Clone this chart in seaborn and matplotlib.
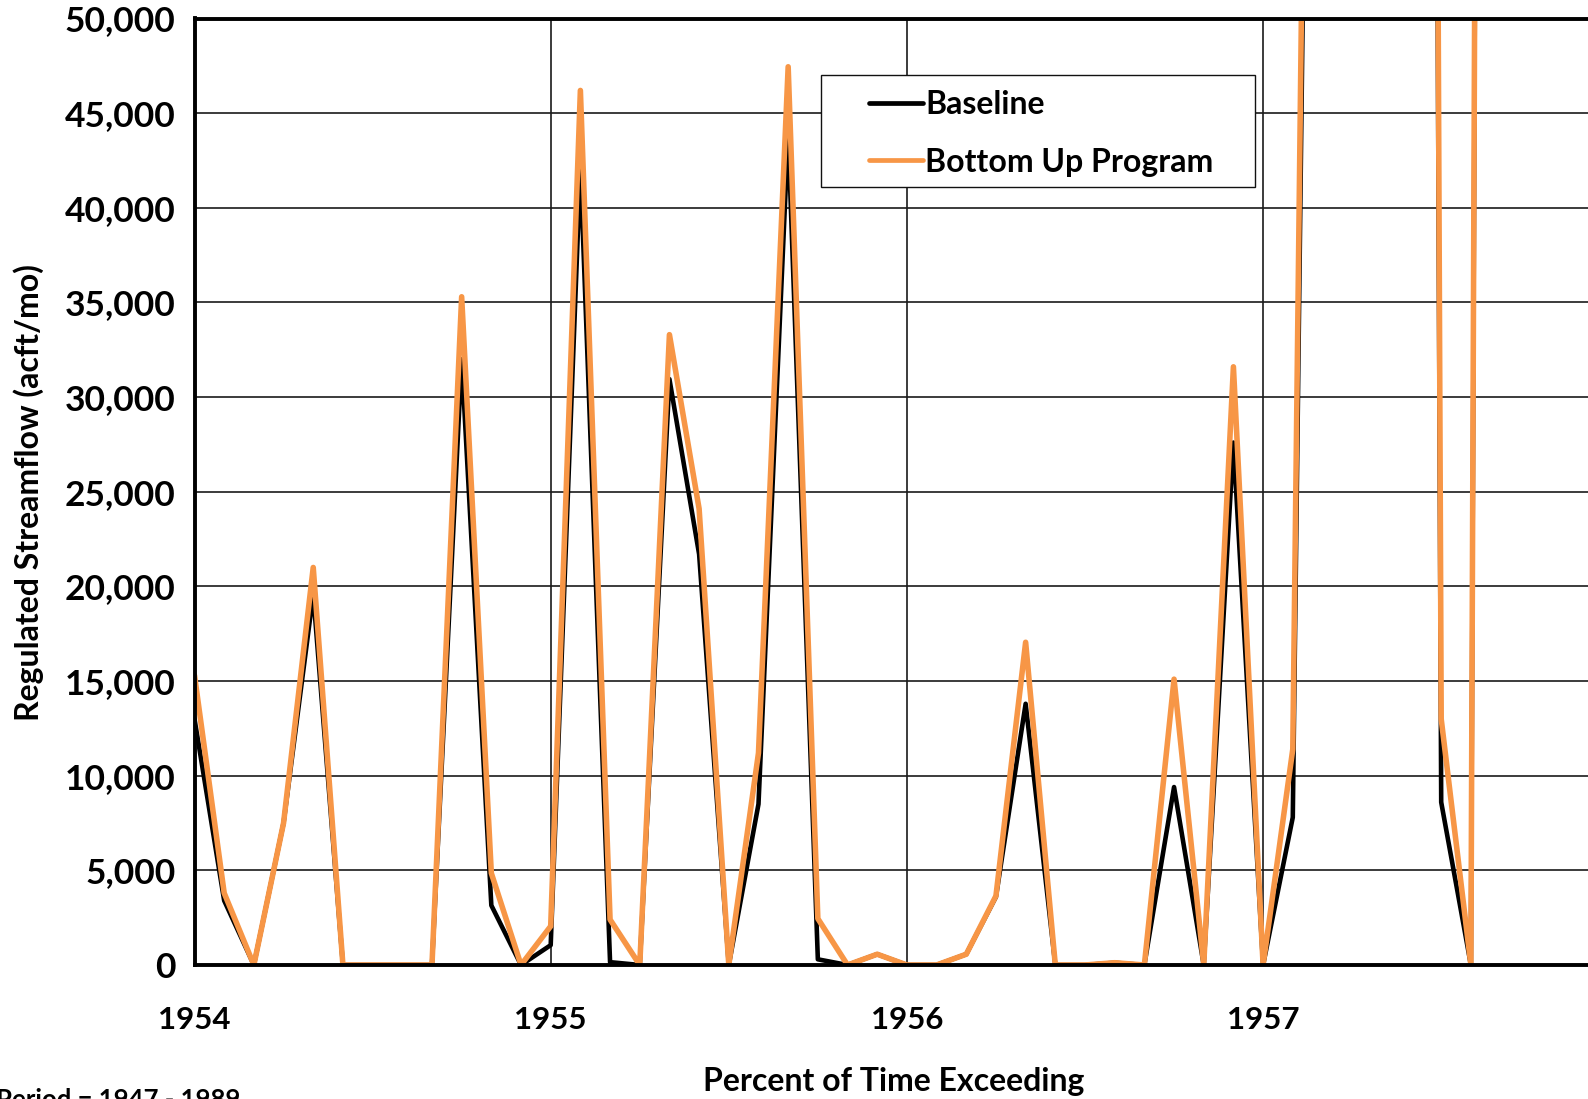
import numpy as np
import pandas as pd
import matplotlib
matplotlib.use("Agg")
import matplotlib.pyplot as plt
import seaborn as sns
from matplotlib.ticker import MultipleLocator, FuncFormatter
from matplotlib.patches import Rectangle

# ---- data (monthly, starting Jan 1954) ----
start_year = 1954
baseline = [13000, 3400, 0, 7500, 19600, 0, 0, 0, 0, 32000, 3150, 0,
            1050, 42200, 150, 0, 30950, 21700, 0, 8500, 44000, 300, 0, 570,
            0, 0, 570, 3600, 13800, 0, 0, 120, 0, 9400, 0, 27600,
            0, 7800, 135000, 150000, 240000, 360000, 8600, 0, 380000, 300000, 250000, 200000]
bottom_up = [15300, 3800, 0, 7500, 21000, 0, 0, 0, 0, 35300, 4850, 0,
             2050, 46200, 2400, 0, 33300, 24100, 0, 11200, 47450, 2450, 0, 570,
             0, 0, 570, 3650, 17050, 0, 0, 120, 0, 15100, 0, 31600,
             0, 11400, 145000, 160000, 250000, 380000, 13000, 0, 400000, 320000, 260000, 210000]
series_names = ["Baseline", "Bottom Up Program"]
series_colors = ["#000000", "#F79646"]
year_ticks = [1954, 1955, 1956, 1957]

months = pd.period_range(f"{start_year}-01", periods=len(baseline), freq="M")
xpos = months.year + (months.month - 1) / 12.0

df = pd.concat([
    pd.DataFrame({"x": xpos, "value": baseline, "series": series_names[0]}),
    pd.DataFrame({"x": xpos, "value": bottom_up, "series": series_names[1]}),
])

# ---- style ----
sns.set_theme(style="white")
plt.rcParams["font.family"] = ["Lato", "DejaVu Sans"]
plt.rcParams["font.weight"] = "bold"
plt.rcParams["text.color"] = "black"
plt.rcParams["axes.labelcolor"] = "black"

W, H = 1588, 1099
fig = plt.figure(figsize=(W / 100, H / 100), dpi=100)

left_px, top_px, bottom_px = 194.5, 18.5, 965.0
year_px = 356.2
ax = fig.add_axes([left_px / W, (H - bottom_px) / H,
                   5 * year_px / W, (bottom_px - top_px) / H])

sns.lineplot(data=df, x="x", y="value", hue="series", hue_order=series_names,
             palette=series_colors, ax=ax, sort=False, legend=True)
for line, lw in zip(ax.lines, [3.3, 4.0]):
    line.set_linewidth(lw)
    line.set_solid_joinstyle("round")
    line.set_solid_capstyle("round")

ax.set_xlim(1954, 1959)
ax.set_ylim(0, 50000)
ax.xaxis.set_minor_locator(MultipleLocator(1 / 12))
ax.set_xticks(year_ticks)
ax.set_xticklabels([str(y) for y in year_ticks])
ax.yaxis.set_major_locator(MultipleLocator(5000))
ax.yaxis.set_minor_locator(MultipleLocator(1000))
ax.yaxis.set_major_formatter(FuncFormatter(lambda v, p: f"{int(v):,}"))

ax.grid(True, which="major", color="#1a1a1a", linewidth=1.2)
ax.set_axisbelow(True)

for s in ["left", "bottom", "top"]:
    ax.spines[s].set_visible(True)
    ax.spines[s].set_color("black")
    ax.spines[s].set_linewidth(2.8)
ax.spines["right"].set_visible(False)

ax.tick_params(axis="both", which="major", direction="out", length=8.5, width=2.2,
               color="black", labelcolor="black")
ax.tick_params(axis="both", which="minor", direction="out", length=5, width=2.2,
               color="black")
ax.tick_params(axis="x", which="major", pad=21, labelsize=22.5)
ax.tick_params(axis="y", which="major", pad=5, labelsize=25.5)
ax.tick_params(top=False, right=False, which="both")
for lab in ax.get_xticklabels() + ax.get_yticklabels():
    lab.set_fontweight("bold")

ax.set_xlabel("Percent of Time Exceeding", fontsize=23, fontweight="bold", color="black")
ax.xaxis.set_label_coords(882 / W * 1.01276, 1 - 1081 / H, transform=fig.transFigure)
ax.xaxis.label.set_va("center")
ax.set_ylabel("Regulated Streamflow (acft/mo)", fontsize=23, fontweight="bold", color="black")
ax.yaxis.set_label_coords(29 / W, 1 - 493 / H, transform=fig.transFigure)
ax.yaxis.label.set_va("center")

# legend
handles, labels = ax.get_legend_handles_labels()
for h in handles:
    h.set_linewidth(3.4)
    h.set_solid_capstyle("round")
leg = ax.legend(handles, labels, loc="center left",
                bbox_to_anchor=(869 / W, 1 - 133.5 / H), bbox_transform=fig.transFigure,
                frameon=False, borderpad=0, borderaxespad=0, handlelength=1.7,
                handletextpad=0.06, labelspacing=0.88, labelcolor="black",
                prop={"family": ["Lato", "DejaVu Sans"], "weight": "bold", "size": 23})
leg.set_zorder(6)
frame = Rectangle((821 / W, 1 - 187 / H), (1255 - 821) / W, (187 - 75) / H,
                  transform=fig.transFigure, fill=True, facecolor="white",
                  edgecolor="#111111", linewidth=1.0, zorder=5, clip_on=False)
ax.add_patch(frame)

fig.text(-4 / W, 1 - 1088 / H, "Period = 1947 - 1989", fontsize=18.5, fontweight="bold",
         color="black", ha="left", va="top")

fig.savefig("out.png", dpi=100)
